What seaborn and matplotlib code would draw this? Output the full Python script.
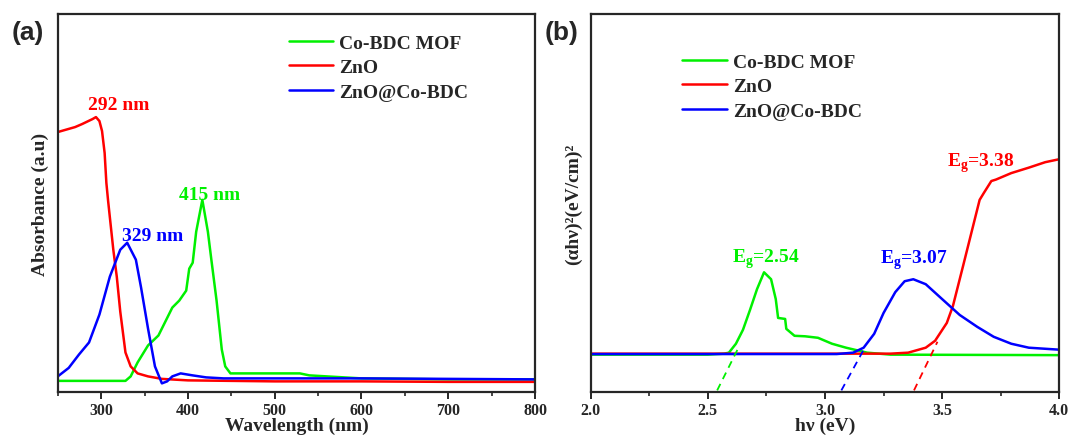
import seaborn as sns
import matplotlib.pyplot as plt
import pandas as pd

sns.set_style("ticks")
plt.rcParams.update({
    'font.family': ['Liberation Serif', 'DejaVu Serif'],
    'font.weight': 'bold',
    'axes.labelweight': 'bold',
    'axes.linewidth': 1.6,
    'xtick.major.width': 1.4,
    'xtick.minor.width': 1.2,
    'xtick.major.size': 5,
    'xtick.minor.size': 3,
    'xtick.direction': 'out',
    'mathtext.fontset': 'custom',
    'mathtext.rm': 'Liberation Serif:bold',
})

names = ["Co-BDC MOF", "ZnO", "ZnO@Co-BDC"]
colors = {"Co-BDC MOF": "#00f000", "ZnO": "#ff0000", "ZnO@Co-BDC": "#0000ff"}

# (a) UV-vis absorbance
mof_wl = [250, 328, 334, 342, 354, 366, 374, 382, 390, 398, 401.5, 405.5, 409.5, 416.6,
          423, 427, 433, 439, 443, 449, 501, 529, 540, 580, 600, 700, 800]
mof_abs = [0.115, 0.115, 0.16, 0.30, 0.47, 0.57, 0.71, 0.85, 0.92, 1.02, 1.24, 1.30, 1.61, 1.93,
           1.61, 1.33, 0.92, 0.43, 0.26, 0.19, 0.19, 0.19, 0.17, 0.15, 0.14, 0.13, 0.13]
zno_wl = [250, 262, 270, 278, 290, 294, 298, 301, 304, 306, 308, 314, 318, 322, 328, 334,
          342, 354, 370, 400, 500, 600, 700, 800]
zno_abs = [2.61, 2.64, 2.66, 2.69, 2.74, 2.76, 2.72, 2.62, 2.40, 2.10, 1.92, 1.43, 1.16, 0.81,
           0.40, 0.26, 0.19, 0.16, 0.135, 0.12, 0.11, 0.11, 0.105, 0.105]
comp_wl = [250, 262.6, 274.5, 286, 298, 310, 322, 330, 340, 346, 354, 362, 370, 376, 382,
           391.6, 405.5, 421, 441, 500, 600, 700, 800]
comp_abs = [0.16, 0.245, 0.38, 0.50, 0.78, 1.16, 1.43, 1.50, 1.33, 1.05, 0.64, 0.26, 0.09, 0.11,
            0.16, 0.19, 0.17, 0.15, 0.14, 0.14, 0.14, 0.135, 0.13]

# (b) Tauc plot
mof_ev = [2.0, 2.5, 2.57, 2.59, 2.62, 2.65, 2.68, 2.71, 2.74, 2.77, 2.79, 2.80, 2.83, 2.835,
          2.87, 2.915, 2.97, 3.03, 3.09, 3.18, 3.28, 4.0]
mof_tauc = [0.36, 0.36, 0.37, 0.38, 0.47, 0.61, 0.81, 1.02, 1.19, 1.12, 0.92, 0.73, 0.72, 0.62,
            0.55, 0.545, 0.53, 0.47, 0.43, 0.38, 0.36, 0.355]
zno_ev = [2.0, 3.28, 3.355, 3.43, 3.47, 3.52, 3.546, 3.59, 3.634, 3.66, 3.678, 3.71, 3.73,
          3.795, 3.87, 3.94, 4.0]
zno_tauc = [0.37, 0.37, 0.38, 0.43, 0.50, 0.68, 0.85, 1.26, 1.675, 1.92, 1.99, 2.11, 2.125,
            2.19, 2.245, 2.30, 2.33]
comp_ev = [2.0, 3.05, 3.12, 3.165, 3.21, 3.25, 3.30, 3.34, 3.377, 3.43, 3.50, 3.575, 3.65,
           3.72, 3.795, 3.87, 4.0]
comp_tauc = [0.366, 0.366, 0.38, 0.43, 0.57, 0.78, 0.99, 1.10, 1.12, 1.07, 0.92, 0.76, 0.64,
             0.54, 0.47, 0.43, 0.41]

# band gap extrapolations: (Eg, end x, end y)
gap_vals = [2.54, 3.38, 3.07]
gap_end_x = [2.635, 3.48, 3.17]
gap_end_y = [0.45, 0.49, 0.43]
gap_labels = ["2.54", "3.38", "3.07"]


def long_df(xs, ys, xname, yname):
    parts = []
    for n, x, y in zip(names, xs, ys):
        parts.append(pd.DataFrame({xname: x, yname: y, "sample": n}))
    return pd.concat(parts, ignore_index=True)


dfa = long_df([mof_wl, zno_wl, comp_wl], [mof_abs, zno_abs, comp_abs], "wl", "abs")
dfb = long_df([mof_ev, zno_ev, comp_ev], [mof_tauc, zno_tauc, comp_tauc], "ev", "tauc")

fig = plt.figure(figsize=(10.7, 4.39), dpi=100)
ax1 = fig.add_axes([0.054, 0.104, 0.446, 0.861])
ax2 = fig.add_axes([0.552, 0.104, 0.438, 0.861])

sns.lineplot(ax=ax1, data=dfa, x="wl", y="abs", hue="sample", hue_order=names,
             palette=colors, linewidth=1.8, sort=False, estimator=None)
sns.lineplot(ax=ax2, data=dfb, x="ev", y="tauc", hue="sample", hue_order=names,
             palette=colors, linewidth=1.8, sort=False, estimator=None)

for eg, ex, ey, n in zip(gap_vals, gap_end_x, gap_end_y, names):
    ax2.plot([eg, ex], [0, ey], ls=(0, (4, 3)), lw=1.3, color=colors[n])

ax1.set_xlim(250, 800)
ax1.set_ylim(0, 3.79)
ax2.set_xlim(2.0, 4.0)
ax2.set_ylim(-0.02, 3.79)

ax1.set_xticks([300, 400, 500, 600, 700, 800])
ax1.set_xticks(range(250, 801, 50), minor=True)
ax2.set_xticks([2.0, 2.5, 3.0, 3.5, 4.0])
ax2.set_xticks([2.25, 2.75, 3.25, 3.75], minor=True)
ax2.set_xticklabels(["2.0", "2.5", "3.0", "3.5", "4.0"])

for ax in (ax1, ax2):
    ax.set_yticks([])
    ax.tick_params(axis='x', labelsize=11.5, pad=2)
    for lab in ax.get_xticklabels():
        lab.set_fontweight('bold')
    for s in ax.spines.values():
        s.set_visible(True)
        s.set_linewidth(1.6)
    ax.legend(frameon=False, handlelength=2.3, handletextpad=0.3,
              labelspacing=0.36, borderpad=0, borderaxespad=0, loc="upper left",
              bbox_to_anchor=(0.484, 0.948) if ax is ax1 else (0.196, 0.898),
              prop={'weight': 'bold', 'size': 14})

ax1.set_xlabel("Wavelength (nm)", fontsize=14, labelpad=-1)
ax1.set_ylabel("Absorbance (a.u)", fontsize=14, labelpad=6)
ax2.set_xlabel("hν (eV)", fontsize=14, labelpad=-1)
ax2.set_ylabel("(αhν)²(eV/cm)²", fontsize=14, labelpad=6)

ax1.text(320, 2.89, "292 nm", color=colors["ZnO"], fontsize=14, ha="center", va="center")
ax1.text(425, 1.98, "415 nm", color=colors["Co-BDC MOF"], fontsize=14, ha="center", va="center")
ax1.text(359.5, 1.57, "329 nm", color=colors["ZnO@Co-BDC"], fontsize=14, ha="center", va="center")

label_pos = [(2.746, 1.33), (3.663, 2.30), (3.377, 1.32)]
for (lx, ly), g, n in zip(label_pos, gap_labels, names):
    ax2.text(lx, ly, r"E$_{\mathregular{g}}$=" + g, color=colors[n], fontsize=14,
             ha="center", va="center")

fig.text(0.011, 1 - 33 / 439, "(a)", family="Liberation Sans", fontsize=19,
         fontweight="bold", va="center", ha="left")
fig.text(0.509, 1 - 33 / 439, "(b)", family="Liberation Sans", fontsize=19,
         fontweight="bold", va="center", ha="left")

plt.savefig("out.png", dpi=100)
